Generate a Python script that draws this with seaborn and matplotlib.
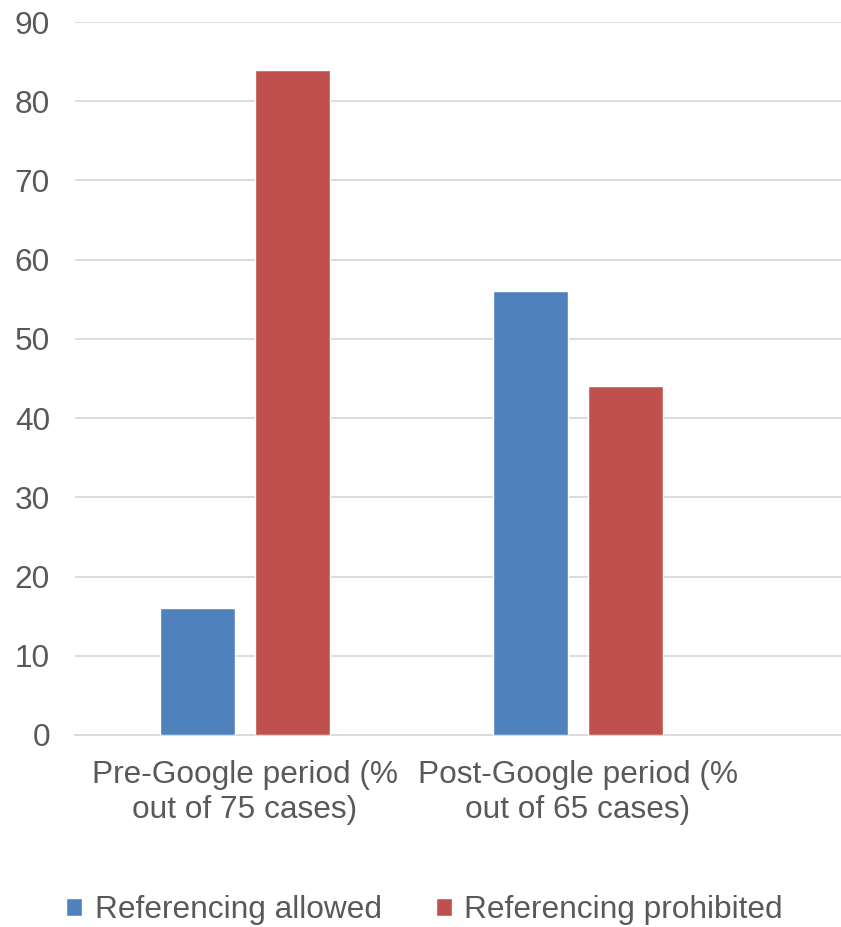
import matplotlib
matplotlib.use("Agg")
import matplotlib.pyplot as plt
import seaborn as sns
import pandas as pd

# data
periods = ["Pre-Google period (%\nout of 75 cases)", "Post-Google period (%\nout of 65 cases)"]
allowed = [16, 56]
prohibited = [84, 44]
series_names = ["Referencing allowed", "Referencing prohibited"]
colors = ["#4F81BD", "#C0504D"]

df = pd.DataFrame({
    "period": periods * 2,
    "value": allowed + prohibited,
    "series": [series_names[0]] * 2 + [series_names[1]] * 2,
})

sns.set_style("white")
plt.rcParams["font.family"] = ["Liberation Sans", "DejaVu Sans"]
text_col = "#595959"
fs = 22.8

fig = plt.figure(figsize=(8.41, 9.27), dpi=100)
ax = fig.add_axes([75 / 841, 1 - 735 / 927, 1 - 75 / 841, (735 - 22) / 927])

sns.barplot(data=df, x="period", y="value", hue="series", palette=colors,
            width=0.57, gap=0.21, saturation=1, ax=ax, legend=True, zorder=3)

ax.set_ylim(0, 90)
ax.set_yticks(range(0, 91, 10))
ax.set_xlim(-0.51, 1.79)
ax.yaxis.grid(True, color="#D9D9D9", linewidth=1.3, zorder=0)
ax.set_axisbelow(True)
for s in ["top", "right", "left"]:
    ax.spines[s].set_visible(False)
ax.spines["bottom"].set_color("#D9D9D9")
ax.spines["bottom"].set_linewidth(1.3)
ax.set_xlabel("")
ax.set_ylabel("")
ax.tick_params(axis="y", length=0, pad=18, labelsize=fs, labelcolor=text_col)
ax.tick_params(axis="x", length=0, pad=18, labelsize=fs, labelcolor=text_col)
for lab in ax.get_xticklabels():
    lab.set_linespacing(1.2)

handles, labels = ax.get_legend_handles_labels()
ax.get_legend().remove()
fig.legend(handles, labels, loc="center", bbox_to_anchor=(0.505, 1 - 910 / 927),
           ncol=2, frameon=False, fontsize=fs, labelcolor=text_col,
           handlelength=0.5, handleheight=0.5, handletextpad=0.4,
           columnspacing=1.7, borderaxespad=0)

plt.savefig("out.png", dpi=100)
plt.close()
